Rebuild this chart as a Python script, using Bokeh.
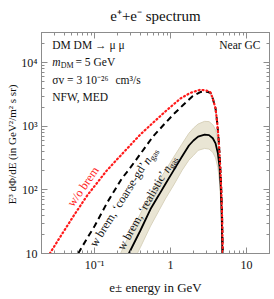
import math
from bokeh.plotting import figure
from bokeh.models import LogAxis, FixedTicker, Label, Range1d, Title
from bokeh.embed import file_html
from bokeh.resources import INLINE

# ---------------- data ----------------
# w/o brem (red dotted)
E_nobrem = [0.0257, 0.035, 0.0532, 0.08, 0.146, 0.25, 0.4, 0.6, 0.9, 1.35, 1.8, 2.47, 3.0, 3.34, 3.6, 3.9, 4.1, 4.3, 4.5, 4.64, 4.75, 4.86]
F_nobrem = [10, 18, 39.5, 82, 205, 410, 747, 1170, 1820, 2750, 3350, 3780, 3650, 3440, 2700, 1910, 1150, 590, 230, 100, 40, 10]

# w brem, 'coarse-gd' n_gas (black dashed)
E_coarse = [0.0608, 0.08, 0.1, 0.146, 0.227, 0.3, 0.4, 0.59, 0.8, 1.07, 1.45, 1.96, 2.5, 2.8, 3.0, 3.34, 3.6, 3.9, 4.1, 4.3, 4.5, 4.64, 4.75, 4.86]
F_coarse = [10, 17.5, 27, 63, 150, 230, 369, 700, 1040, 1514, 2150, 3000, 3480, 3530, 3500, 3380, 2700, 1910, 1150, 590, 230, 100, 40, 10]

# w brem, 'realistic' n_gas (black solid) and its uncertainty band
E_real = [0.282, 0.4, 0.544, 0.7, 0.85, 1.1, 1.4, 1.74, 2.0, 2.3, 2.8, 3.2, 3.59, 3.9, 4.18, 4.4, 4.55, 4.68, 4.8]
F_real = [10, 23, 50, 83, 123, 205, 330, 500, 600, 690, 740, 730, 650, 540, 380, 230, 120, 50, 10]

E_band_hi = [0.219, 0.3, 0.4, 0.544, 0.7, 0.86, 1.1, 1.4, 1.74, 2.0, 2.3, 2.8, 3.2, 3.59, 3.9, 4.18, 4.4, 4.55, 4.68, 4.8]
F_band_hi = [10, 22, 42, 88, 140, 205, 330, 520, 780, 940, 1090, 1200, 1190, 1060, 880, 620, 380, 200, 80, 10]
E_band_lo = [0.364, 0.4, 0.544, 0.7, 0.85, 1.1, 1.42, 1.74, 2.0, 2.3, 2.8, 3.2, 3.59, 3.9, 4.18, 4.4, 4.55, 4.68, 4.8]
F_band_lo = [10, 12.5, 27, 47, 72, 120, 205, 295, 350, 420, 450, 440, 390, 320, 225, 135, 70, 30, 10]

x_major = [0.1, 1, 10]
x_labels = ["10⁻¹", "1", "10"]
y_major = [10, 100, 1000, 10000]
y_labels = ["10", "10²", "10³", "10⁴"]

X_MIN, X_MAX = 0.02, 20
Y_MIN, Y_MAX = 10, 3e4

# ---------------- layout ----------------
W, H = 274, 299
FL, FT, FW, FH = 41, 32, 228, 227
SERIF = "Liberation Serif"
GRAY = "#8c8c8c"
RED = "#ff1a1a"
INK = "#111111"


def px2x(px):
    return 10 ** (math.log10(X_MIN) + (px - FL) / FW * math.log10(X_MAX / X_MIN))


def py2y(py):
    return 10 ** (math.log10(Y_MAX) - (py - FT) / FH * math.log10(Y_MAX / Y_MIN))


p = figure(width=W, height=H, x_axis_type="log", y_axis_type="log",
           x_range=Range1d(X_MIN, X_MAX), y_range=Range1d(Y_MIN, Y_MAX),
           output_backend="svg", toolbar_location=None,
           title="e⁺+e⁻ spectrum",
           min_border_left=FL, min_border_right=W - FL - FW,
           min_border_top=FT, min_border_bottom=H - FT - FH)
p.xgrid.visible = False
p.ygrid.visible = False
p.outline_line_color = GRAY
p.background_fill_color = "white"
p.border_fill_color = "white"
p.title.align = "center"
p.title.text_font = SERIF
p.title.text_font_size = "15px"
p.title.text_font_style = "normal"
p.title.text_color = INK
p.title.vertical_align = "top"
p.title.standoff = 13


def minors(lo_exp, hi_exp, lo, hi):
    out = []
    for d in range(lo_exp, hi_exp + 1):
        for k in range(2, 10):
            v = k * 10 ** d
            if lo <= v <= hi:
                out.append(v)
    return out


xt = FixedTicker(ticks=x_major, minor_ticks=minors(-2, 1, X_MIN, X_MAX))
yt = FixedTicker(ticks=y_major, minor_ticks=minors(1, 4, Y_MIN, Y_MAX))


def style(ax):
    ax.axis_line_color = GRAY
    ax.major_tick_line_color = GRAY
    ax.minor_tick_line_color = GRAY
    ax.major_tick_in = 6
    ax.major_tick_out = 0
    ax.minor_tick_in = 3
    ax.minor_tick_out = 0
    ax.major_label_text_font = SERIF
    ax.major_label_text_color = INK
    ax.major_label_text_font_size = "12px"
    ax.major_label_standoff = 4


p.xaxis[0].ticker = xt
p.yaxis[0].ticker = yt
p.xaxis[0].major_label_overrides = dict(zip(x_major, x_labels))
p.yaxis[0].major_label_overrides = dict(zip(y_major, y_labels))
style(p.xaxis[0])
style(p.yaxis[0])

top = LogAxis(ticker=xt)
right = LogAxis(ticker=yt)
style(top)
style(right)
top.major_label_overrides = {t: "" for t in x_major}
right.major_label_overrides = {t: "" for t in y_major}
top.major_label_text_font_size = "1px"
right.major_label_text_font_size = "1px"
top.major_label_standoff = 0
right.major_label_standoff = 0
p.add_layout(top, "above")
p.add_layout(right, "right")

# axis titles as side titles (so they can be offset like the reference)
p.add_layout(Title(text="e± energy in GeV", align="center", offset=-17.5, vertical_align="middle",
                   standoff=8, text_font=SERIF, text_font_size="13px", text_font_style="normal",
                   text_color=INK), "below")
p.add_layout(Title(text="E³ dΦ/dE  (in GeV²/m² s sr)", align="center", offset=-9, vertical_align="middle",
                   standoff=0, text_font=SERIF, text_font_size="11px", text_font_style="normal",
                   text_color=INK), "left")

# ---------------- data marks ----------------
p.patch(E_band_hi + E_band_lo[::-1], F_band_hi + F_band_lo[::-1],
        fill_color="#e9e5d4", line_color="#d8d2bc", line_width=1)
p.line(E_real, F_real, line_color="black", line_width=1.8)
p.line(E_coarse, F_coarse, line_color="black", line_width=2, line_dash="6 4")
p.line(E_nobrem, F_nobrem, line_color=RED, line_width=2.2, line_dash="1 3", line_cap="round")


# ---------------- texts ----------------
def lab(px, py, text, size=11.5, align="left", base="middle", angle=0.0, color=INK, style="normal"):
    p.add_layout(Label(x=px2x(px), y=py2y(py), text=text, text_font=SERIF,
                       text_font_size=f"{size}px", text_align=align, text_baseline=base,
                       angle=math.radians(angle), text_color=color, text_font_style=style))


# info block
lab(51.7, 45, "DM DM → μ μ")
lab(51.7, 62, "m", style="italic")
lab(60.3, 65.5, "DM", 8)
lab(75, 62, "= 5 GeV")
lab(51.7, 80.5, "σv = 3")
lab(85, 80.5, "10⁻²⁶")
lab(115, 80.5, "cm³/s")
lab(51.7, 98, "NFW, MED")
lab(260, 45, "Near GC", align="right")

# curve labels: pieces laid along a rotated baseline
EM = {"w": 722, " ": 250, "b": 500, "r": 333, "e": 444, "m": 778, ",": 250, "‘": 333, "’": 333,
      "c": 444, "o": 500, "a": 444, "s": 389, "-": 333, "g": 500, "d": 500, "n": 500,
      "l": 278, "i": 278, "t": 278, "/": 278}


def text_w(s, size):
    return sum(EM.get(ch, 500) for ch in s) * size / 1000.0


def rot_text(x0, y0, ang, pieces, color=INK):
    a = math.radians(ang)
    d = (math.cos(a), -math.sin(a))
    down = (math.sin(a), math.cos(a))
    t = 0.0
    for s, size, style, shift in pieces:
        px = x0 + t * d[0] + shift * down[0]
        py = y0 + t * d[1] + shift * down[1]
        lab(px, py, s, size, base="alphabetic", angle=ang, color=color, style=style)
        t += text_w(s, size)


rot_text(69.5, 209.5, 55, [("w/o brem", 12, "normal", 0)], color=RED)
rot_text(92, 251, 58, [("w brem, ‘coarse-gd’ ", 12, "normal", 0), ("n", 12, "italic", 0),
                       ("gas", 8.5, "normal", 3)])
rot_text(119.7, 254.3, 60.6, [("w brem, ‘realistic’ ", 12, "normal", 0), ("n", 12, "italic", 0),
                              ("gas", 8.5, "normal", 3)])

open("out.html", "w").write(file_html(p, INLINE))
